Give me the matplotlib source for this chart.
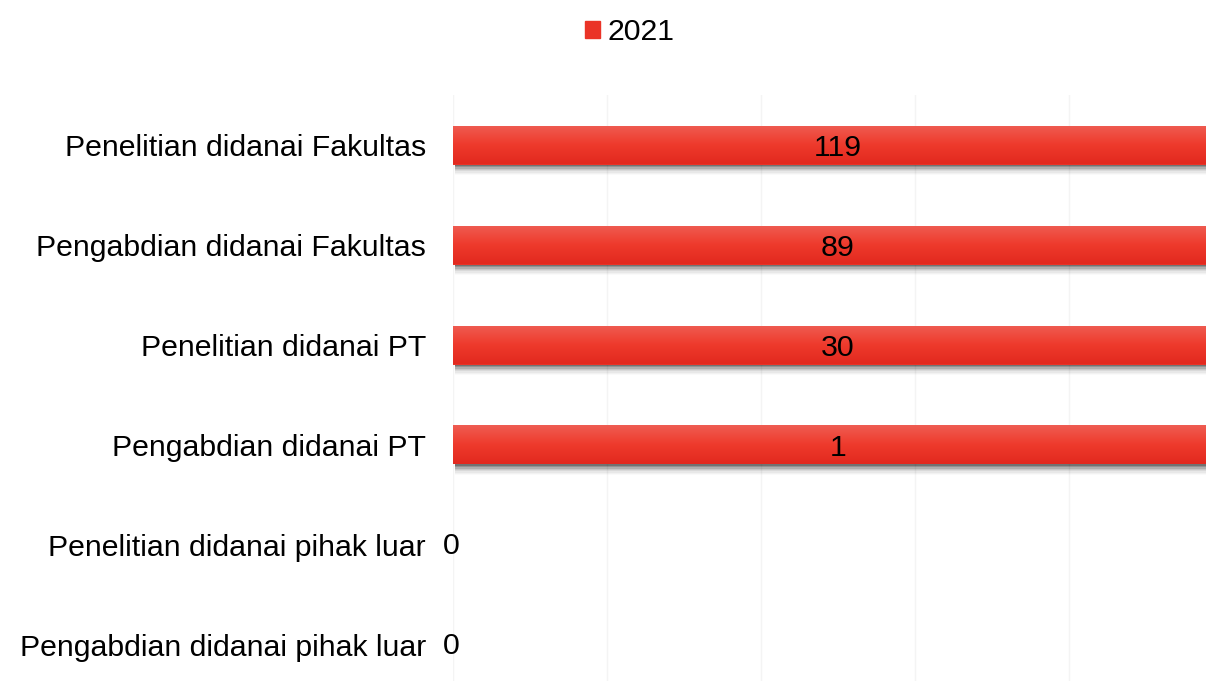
import numpy as np
import matplotlib
matplotlib.use("Agg")
import matplotlib.pyplot as plt
from matplotlib.patches import Rectangle

categories = ["Penelitian didanai Fakultas", "Pengabdian didanai Fakultas",
              "Penelitian didanai PT", "Pengabdian didanai PT",
              "Penelitian didanai pihak luar", "Pengabdian didanai pihak luar"]
values_2021 = [119, 89, 30, 1, 0, 0]
series_name = "2021"

plt.rcParams['font.family'] = ['Liberation Sans', 'DejaVu Sans']

W, H = 1206, 681
fig = plt.figure(figsize=(W / 100, H / 100), dpi=100)
ax_left, ax_right, ax_top = 453, 1206, 95
ax = fig.add_axes([ax_left / W, 0, (ax_right - ax_left) / W, (H - ax_top) / H])

FS = 21.8
xmax = 0.978
ax.set_xticks([0, 0.2, 0.4, 0.6, 0.8])
ax.xaxis.grid(True, color="#f4f4f4", linewidth=1)
ax.set_axisbelow(True)
ax.tick_params(axis="x", bottom=False, labelbottom=False)
ax.tick_params(axis="y", left=False, length=0, pad=19.5, labelsize=FS)
for s in ax.spines.values():
    s.set_visible(False)

ypos = np.arange(len(categories))
ax.set_yticks(ypos)
ax.set_yticklabels(categories)

bar_h = 0.39
grad = np.linspace(0, 1, 64).reshape(-1, 1)
cmap = matplotlib.colors.LinearSegmentedColormap.from_list(
    "g", ["#ef5c52", "#ee3a2c", "#e2291f"])

for y, v in zip(ypos, values_2021):
    if v > 0:
        # shadow
        for k, a in enumerate([0.22, 0.16, 0.12, 0.08, 0.06, 0.04, 0.03, 0.02]):
            off = 0.015 + k * 0.013
            ax.add_patch(Rectangle((0.003, y - bar_h / 2 + off), v, bar_h,
                                   facecolor="black", alpha=a, linewidth=0, zorder=1))
        bars = ax.barh([y], [v], height=bar_h, color="#ea3327", zorder=2)
        patch = bars[0]
        im = ax.imshow(grad, extent=[0, v, y + bar_h / 2, y - bar_h / 2],
                       aspect="auto", cmap=cmap, zorder=3)
        im.set_clip_path(patch)
        ax.text(min(v, 1) / 2, y + 0.03, str(v), ha="center", va="center",
                fontsize=FS, zorder=5)
    else:
        ax.text(-0.002, y + 0.01, str(v), ha="center", va="center",
                fontsize=FS, zorder=5, clip_on=False)
ax.set_xlim(0, xmax)
ax.set_ylim(5.36, -0.5)

# legend
fig.legend(handles=[Rectangle((0, 0), 1, 1, color="#ea3327")], labels=[series_name],
           loc="center", bbox_to_anchor=(630 / W, 1 - 32 / H), frameon=False,
           fontsize=FS, handlelength=0.48, handleheight=0.48, handletextpad=0.25)

fig.savefig("out.png", dpi=100)
